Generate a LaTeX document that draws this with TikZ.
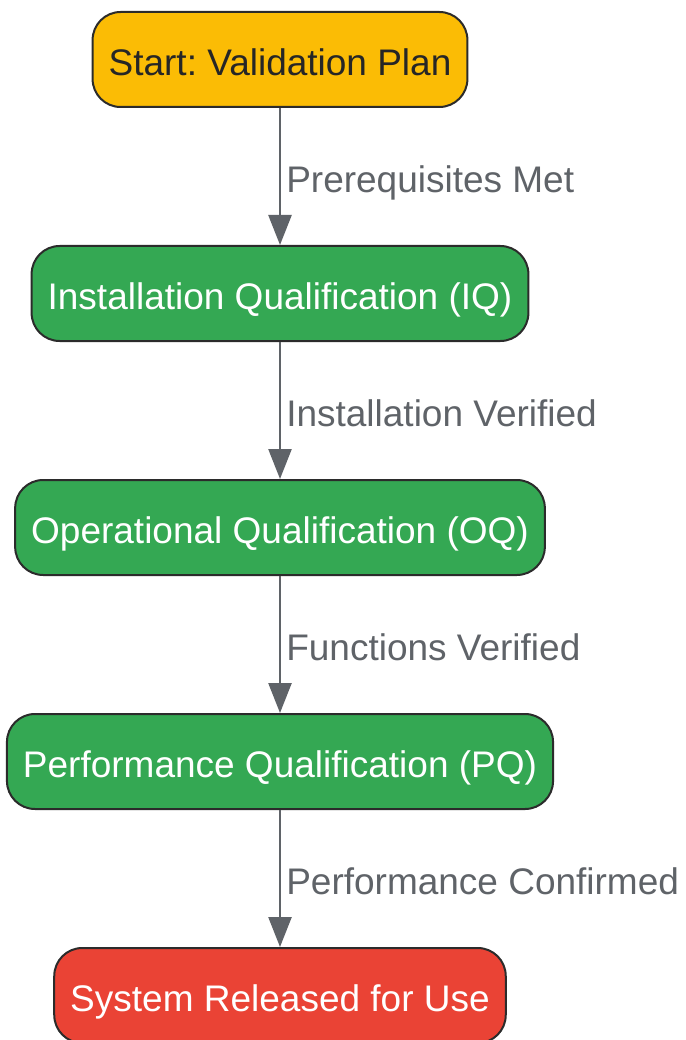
\documentclass[tikz,border=0pt]{standalone}
\usepackage{fontspec}
\setmainfont{Liberation Sans}
\usepackage{xcolor}
\usetikzlibrary{positioning,arrows.meta}
\frenchspacing

\definecolor{startyellow}{HTML}{FBBC05}
\definecolor{qualgreen}{HTML}{34A853}
\definecolor{endred}{HTML}{EA4335}
\definecolor{flowgray}{HTML}{5F6368}
\definecolor{edgeblack}{HTML}{2B2B2B}

\tikzset{
  stage/.style={draw=edgeblack, line width=2pt, rounded corners=28pt,
    minimum height=95pt, inner xsep=16pt, text=white,
    text height=32pt, text depth=0pt,
    font=\fontsize{37}{44}\selectfont},
  flow/.style={flowgray, line width=2.5pt,
    -{Triangle[length=30pt,width=23pt]}},
  lbl/.style={anchor=west, inner xsep=5pt, text=flowgray,
    text height=32pt, text depth=0pt,
    font=\fontsize{37}{44}\selectfont}
}

\begin{document}
\begin{tikzpicture}[x=1pt, y=-1pt]
\useasboundingbox (0,0) rectangle (685,1040);

\node [stage, fill=startyellow, text=black!85] (start) at (280,59.5) {Start: Validation Plan};
\node [stage, fill=qualgreen, below=137pt of start] (iq) {Installation Qualification (IQ)};
\node [stage, fill=qualgreen, below=137pt of iq] (oq) {Operational Qualification (OQ)};
\node [stage, fill=qualgreen, below=137pt of oq] (pq) {Performance Qualification (PQ)};
\node [stage, fill=endred, below=137pt of pq] (release) {System Released for Use};

\draw [flow] (start) -- node [lbl] (lstart) {Prerequisites Met} (iq);
\draw [flow] (iq) -- node [lbl] (liq) {Installation Verified} (oq);
\draw [flow] (oq) -- node [lbl] (loq) {Functions Verified} (pq);
\draw [flow] (pq) -- node [lbl] (lpq) {Performance Confirmed} (release);

\end{tikzpicture}
\end{document}
